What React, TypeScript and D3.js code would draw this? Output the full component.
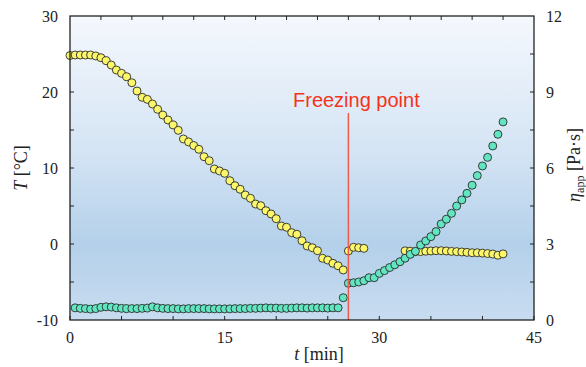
import React from "react";
import * as d3 from "d3";

const W = 586;
const H = 367;
const M = { left: 70, right: 534, top: 16, bottom: 320 };

// Temperature series (left axis), t in minutes
const tempTimesA = d3.range(0, 26.51, 0.5);
const tempValuesA = [
  24.8, 24.87, 24.87, 24.87, 24.87, 24.74, 24.51, 24.12, 23.55, 22.89, 22.46, 22.01, 21.22, 20.13,
  19.3, 19.03, 18.42, 17.72, 16.97, 16.32, 15.66, 14.96, 13.82, 13.43, 12.96, 12.46, 11.49, 10.96,
  9.87, 9.61, 9.3, 8.33, 7.67, 7.2, 6.45, 6.01, 5.26, 5.04, 4.38, 3.95, 3.33, 2.37, 2.2, 1.49, 1.28,
  0.43, -0.26, -0.49, -0.88, -1.88, -2.11, -2.54, -2.86, -3.42,
];
const tempTimesB = [27, 27.5, 28, 28.5];
const tempValuesB = [-0.92, -0.43, -0.49, -0.57];
const tempTimesC = d3.range(32.5, 42.01, 0.5);
const tempValuesC = [
  -0.9, -0.95, -1.0, -1.0, -0.95, -0.92, -0.88, -0.88, -0.92, -0.97, -1.0, -1.05, -1.1, -1.15,
  -1.15, -1.2, -1.25, -1.32, -1.48, -1.3,
];

// Apparent viscosity series (right axis)
const viscTimesA = d3.range(0.5, 26.51, 0.5);
const viscValuesA = [
  0.48, 0.46, 0.45, 0.43, 0.45, 0.5, 0.52, 0.51, 0.48, 0.46, 0.45, 0.45, 0.45, 0.46, 0.47, 0.52,
  0.48, 0.46, 0.45, 0.45, 0.44, 0.44, 0.45, 0.45, 0.45, 0.45, 0.44, 0.44, 0.44, 0.44, 0.44, 0.45,
  0.45, 0.45, 0.46, 0.46, 0.47, 0.48, 0.47, 0.47, 0.46, 0.46, 0.47, 0.48, 0.48, 0.47, 0.48, 0.48,
  0.48, 0.47, 0.48, 0.48, 0.88,
];
const viscTimesB = d3.range(27, 42.01, 0.5);
const viscValuesB = [
  1.45, 1.47, 1.5, 1.55, 1.67, 1.67, 1.84, 1.95, 2.07, 2.18, 2.3, 2.44, 2.59, 2.71, 2.96, 3.12,
  3.29, 3.49, 3.79, 3.98, 4.21, 4.5, 4.74, 5.0, 5.32, 5.7, 6.08, 6.42, 6.87, 7.33, 7.82,
];

const freezingTime = 27;
const bottomTicks = [0, 5, 10, 15, 20, 25, 30, 35, 40, 45];
const bottomLabels = [0, 15, 30, 45];
const topTicks = [3, 6, 9, 12, 15, 18, 21, 24, 27, 30, 33, 36, 39, 42];
const leftTicks = [-5, 0, 5, 10, 15, 20, 25];
const leftLabels = [-10, 0, 10, 20, 30];
const rightTicks = [1.5, 3, 4.5, 6, 7.5, 9, 10.5];
const rightLabels = [0, 3, 6, 9, 12];

export default function App() {
  const x = d3.scaleLinear().domain([0, 45]).range([M.left, M.right]);
  const yT = d3.scaleLinear().domain([-10, 30]).range([M.bottom, M.top]);
  const yV = d3.scaleLinear().domain([0, 12]).range([M.bottom, M.top]);

  const yellow = [
    ...tempTimesA.map((t, i) => [t, tempValuesA[i]]),
    ...tempTimesB.map((t, i) => [t, tempValuesB[i]]),
    ...tempTimesC.map((t, i) => [t, tempValuesC[i]]),
  ].filter((d) => d[1] !== undefined);
  const cyan = [
    ...viscTimesA.map((t, i) => [t, viscValuesA[i]]),
    ...viscTimesB.map((t, i) => [t, viscValuesB[i]]),
  ].filter((d) => d[1] !== undefined);

  const serif = "'Liberation Serif', 'Times New Roman', serif";
  const tickLen = 4;
  const r = 4;

  return (
    <svg width={W} height={H} style={{ position: "absolute", left: 0, top: 0 }} fontFamily={serif}>
      <defs>
        <linearGradient id="bg" x1="0" y1="0" x2="0" y2="1">
          <stop offset="0" stopColor="#f5f8fd" />
          <stop offset="0.45" stopColor="#d4e4f4" />
          <stop offset="0.75" stopColor="#b4d0ea" />
          <stop offset="1" stopColor="#c8dcf0" />
        </linearGradient>
      </defs>
      <rect x={M.left} y={M.top} width={M.right - M.left} height={M.bottom - M.top} fill="url(#bg)" />

      {/* ticks */}
      {bottomTicks.map((t) => (
        <line key={"b" + t} x1={x(t)} x2={x(t)} y1={M.bottom} y2={M.bottom - tickLen} stroke="#222" strokeWidth={1} />
      ))}
      {topTicks.map((t) => (
        <line key={"t" + t} x1={x(t)} x2={x(t)} y1={M.top} y2={M.top + tickLen} stroke="#222" strokeWidth={1} />
      ))}
      {leftTicks.map((v) => (
        <line key={"l" + v} x1={M.left} x2={M.left + tickLen} y1={yT(v)} y2={yT(v)} stroke="#222" strokeWidth={1} />
      ))}
      {rightTicks.map((v) => (
        <line key={"r" + v} x1={M.right} x2={M.right - tickLen} y1={yV(v)} y2={yV(v)} stroke="#222" strokeWidth={1} />
      ))}

      {/* yellow temperature */}
      {yellow.map((d, i) => (
        <circle key={"y" + i} cx={x(d[0])} cy={yT(d[1])} r={r} fill="#fbf66a" stroke="#2a2a2a" strokeWidth={0.9} />
      ))}
      {/* cyan viscosity */}
      {cyan.map((d, i) => (
        <circle key={"c" + i} cx={x(d[0])} cy={yV(d[1])} r={r} fill="#62e6c2" stroke="#2a2a2a" strokeWidth={0.9} />
      ))}

      {/* freezing point */}
      <line x1={x(freezingTime)} x2={x(freezingTime)} y1={113} y2={M.bottom} stroke="#ef5b4b" strokeWidth={1.5} />
      <text x={293} y={107} fill="#f4331a" fontSize={20} fontFamily="'Liberation Sans', Arial, sans-serif">
        Freezing point
      </text>

      {/* frame */}
      <rect x={M.left} y={M.top} width={M.right - M.left} height={M.bottom - M.top} fill="none" stroke="#222" strokeWidth={1.3} />

      {/* tick labels */}
      {bottomLabels.map((t) => (
        <text key={"bl" + t} x={x(t)} y={343} textAnchor="middle" fontSize={16} fill="#222">
          {t}
        </text>
      ))}
      {leftLabels.map((v) => (
        <text key={"ll" + v} x={58} y={yT(v) + 5.5} textAnchor="end" fontSize={16} fill="#222">
          {v}
        </text>
      ))}
      {rightLabels.map((v) => (
        <text key={"rl" + v} x={546} y={yV(v) + 5.5} textAnchor="start" fontSize={16} fill="#222">
          {v}
        </text>
      ))}

      {/* axis titles */}
      <text x={319} y={360} textAnchor="middle" fontSize={18} fill="#222">
        <tspan fontStyle="italic">t</tspan> [min]
      </text>
      <text transform={`translate(27,${(M.top + M.bottom) / 2}) rotate(-90)`} textAnchor="middle" fontSize={18} fill="#222">
        <tspan fontStyle="italic">T</tspan> [°C]
      </text>
      <text transform={`translate(580,165) rotate(-90)`} textAnchor="middle" fontSize={18} fill="#222">
        <tspan fontStyle="italic">η</tspan>
        <tspan fontSize={12} dy={4}>app</tspan>
        <tspan dy={-4}> [Pa·s]</tspan>
      </text>
    </svg>
  );
}
